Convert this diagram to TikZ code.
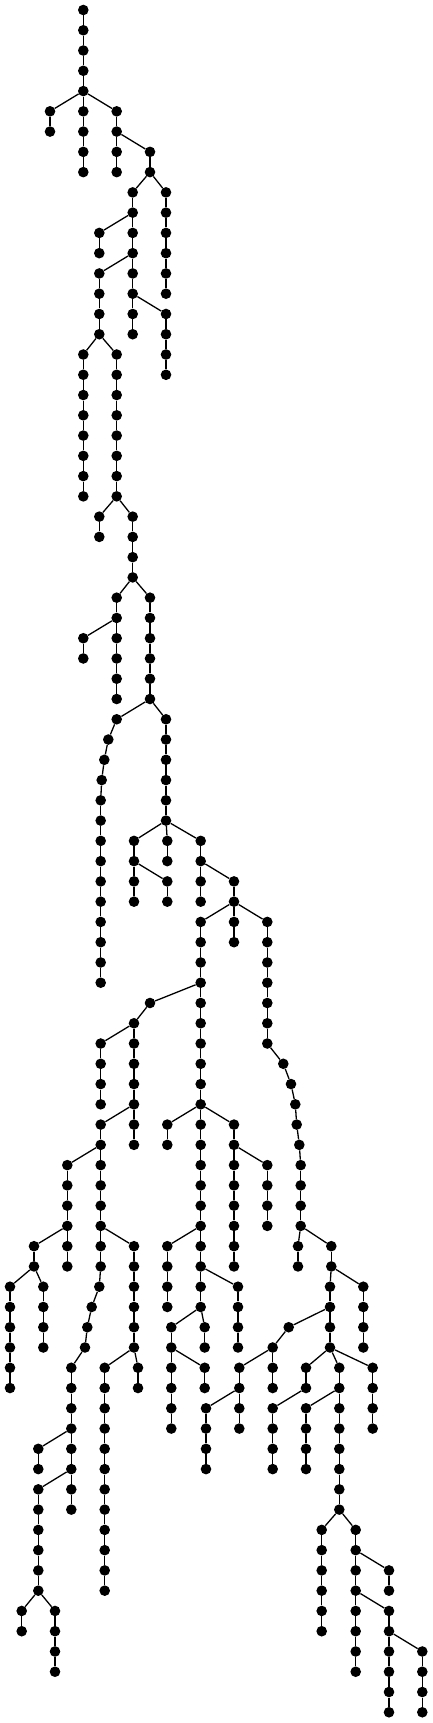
\documentclass[tikz,border=0pt]{standalone}
\usetikzlibrary{positioning}
\tikzset{
  dot/.style={circle, fill=black, draw=none, inner sep=0pt, minimum size=10.6pt},
  edge/.style={line width=1.3pt, black}
}
\newcommand\lvy[1]{10+20.265*#1}
% uniform chain: name, x, first level, last level
\newcommand\chn[4]{%
  \foreach \l in {#3,...,#4}{%
    \node[dot] (#1-\l) at (#2,{10+20.265*\l}) {};%
    \ifnum\l>#3 \pgfmathtruncatemacro\pl{\l-1}\draw[edge] (#1-\pl) -- (#1-\l);\fi
  }%
}
% chain with listed x positions: name, first level, list of x
\newcommand\chx[3]{%
  \foreach \xx [count=\l from #2] in {#3}{%
    \node[dot] (#1-\l) at (\xx,{10+20.265*\l}) {};%
    \ifnum\l>#2 \pgfmathtruncatemacro\pl{\l-1}\draw[edge] (#1-\pl) -- (#1-\l);\fi
  }%
}
\newcommand\ed[2]{\draw[edge] (#1) -- (#2);}
\begin{document}
\begin{tikzpicture}[x=1pt,y=-1pt]
\useasboundingbox (0,0) rectangle (432,1723);
\chn{A}{83.3}{0}{8}
\chn{B}{50}{5}{6} \ed{A-4}{B-5}
\chn{C}{116.7}{5}{8} \ed{A-4}{C-5}
\chn{D}{150}{7}{8} \ed{C-6}{D-7}
\chn{E}{132.7}{9}{16} \ed{D-8}{E-9}
\chn{F}{166}{9}{14} \ed{D-8}{F-9}
\chn{G}{99.3}{11}{12} \ed{E-10}{G-11}
\chn{H}{99.3}{13}{16} \ed{E-12}{H-13}
\chn{I}{166}{15}{18} \ed{E-14}{I-15}
\chn{J}{83.3}{17}{24} \ed{H-16}{J-17}
\chn{K}{116.7}{17}{24} \ed{H-16}{K-17}
\chn{KL}{99.3}{25}{26} \ed{K-24}{KL-25}
\chn{M}{132.7}{25}{28} \ed{K-24}{M-25}
\chn{N}{116.7}{29}{34} \ed{M-28}{N-29}
\chn{O}{83.3}{31}{32} \ed{N-30}{O-31}
\chn{P}{150}{29}{34} \ed{M-28}{P-29}
\chx{Q}{35}{116.7,108.3,104.3,101.7,100.7,100.7,100.7,100.7,100.7,100.7,100.7,100.7,100.7,100.7} \ed{P-34}{Q-35}
\chn{R}{166}{35}{40} \ed{P-34}{R-35}
\chn{S}{134}{41}{44} \ed{R-40}{S-41}
\chn{SS}{167.3}{43}{44} \ed{S-42}{SS-43}
\chn{T}{167.3}{41}{42} \ed{R-40}{T-41}
\chn{U}{200.7}{41}{44} \ed{R-40}{U-41}
\chn{V}{234}{43}{46} \ed{U-42}{V-43}
\chn{W}{200.7}{45}{64} \ed{V-44}{W-45}
\chx{X}{45}{267.3,267.3,267.3,267.3,267.3,267.3,267.3,283.3,291,295.3,296.7,299.3,300.7,300.7,300.7,300.7} \ed{V-44}{X-45}
\chx{Z}{49}{150,134,134,134,134,134,134,134} \ed{W-48}{Z-49}
\chn{AA}{100.7}{51}{54} \ed{Z-50}{AA-51}
\chx{AB}{55}{100.7,100.7,100.7,100.7,100.7,100.7,100.7,100.7,99.3,91.7,87.3,85,71.3,71.3,71.3,71.3,71.3,71.3,71.3,71.3} \ed{Z-54}{AB-55}
\chn{AC}{67.3}{57}{62} \ed{AB-56}{AC-57}
\chn{AD}{34}{61}{62} \ed{AC-60}{AD-61}
\chn{AE}{10}{63}{68} \ed{AD-62}{AE-63}
\chn{AF}{43.3}{63}{66} \ed{AD-62}{AF-63}
\chn{AG}{134}{61}{66} \ed{AB-60}{AG-61}
\chn{AH}{104.7}{67}{78} \ed{AG-66}{AH-67}
\chn{AI}{138}{67}{68} \ed{AG-66}{AI-67}
\chn{AJ}{38.3}{71}{72} \ed{AB-70}{AJ-71}
\chn{AK}{38.3}{73}{78} \ed{AB-72}{AK-73}
\chn{AL}{21.7}{79}{80} \ed{AK-78}{AL-79}
\chn{AM}{55}{79}{82} \ed{AK-78}{AM-79}
\chn{BA}{167.3}{55}{56} \ed{W-54}{BA-55}
\chn{BB}{234}{55}{62} \ed{W-54}{BB-55}
\chn{BC}{267.3}{57}{60} \ed{BB-56}{BC-57}
\chn{BD}{167.3}{61}{64} \ed{W-60}{BD-61}
\chn{BE}{238}{63}{66} \ed{W-62}{BE-63}
\chn{BF}{171.3}{65}{70} \ed{W-64}{BF-65}
\chn{BG}{204.7}{67}{68} \ed{BF-66}{BG-67}
\chn{BH}{204.7}{65}{66} \ed{W-64}{BH-65}
\chn{CA}{298}{61}{62} \ed{X-60}{CA-61}
\chx{CB}{61}{331.3,331.3,330,330,330,330} \ed{X-60}{CB-61}
\chn{CC}{363.3}{63}{66} \ed{CB-62}{CC-63}
\chx{CD}{65}{288.7,272.7,272.7,272.7} \ed{CB-64}{CD-65}
\chn{CE}{239.3}{67}{70} \ed{CD-66}{CE-67}
\chn{CF}{206}{69}{72} \ed{CE-68}{CF-69}
\chn{CG}{306}{67}{68} \ed{CB-66}{CG-67}
\chn{CH}{272.7}{69}{72} \ed{CG-68}{CH-69}
\chn{CI}{339.3}{67}{74} \ed{CB-66}{CI-67}
\chn{CJ}{306}{69}{72} \ed{CI-68}{CJ-69}
\chn{CK}{372.7}{67}{70} \ed{CB-66}{CK-67}
\chn{CL}{321.7}{75}{80} \ed{CI-74}{CL-75}
\chn{CM}{355.7}{75}{82} \ed{CI-74}{CM-75}
\chn{CN}{389}{77}{78} \ed{CM-76}{CN-77}
\chn{CO}{389}{79}{84} \ed{CM-78}{CO-79}
\chn{CP}{422.3}{81}{84} \ed{CO-80}{CP-81}
\end{tikzpicture}
\end{document}
